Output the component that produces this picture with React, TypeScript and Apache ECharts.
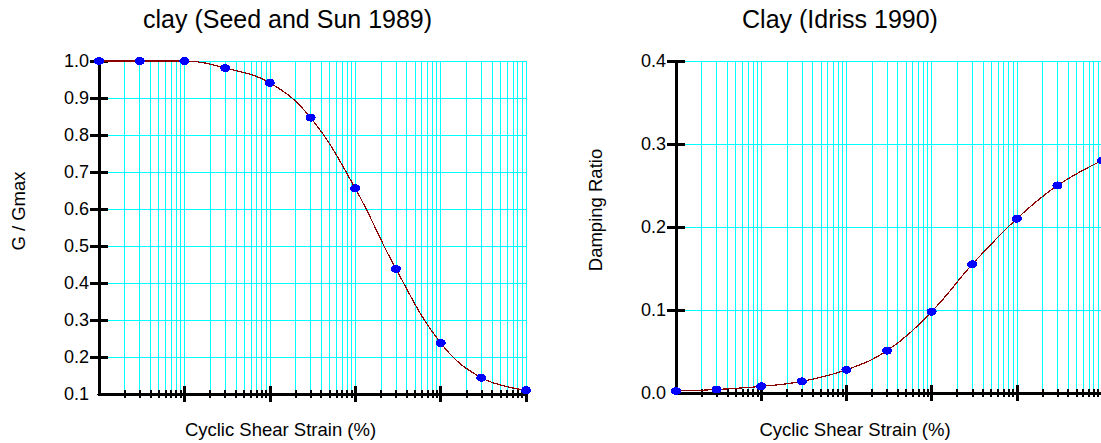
import React, { useEffect, useRef } from "react";
import * as echarts from "echarts";

// ---- data ----
const strain = [0.0001, 0.0003, 0.001, 0.003, 0.01, 0.03, 0.1, 0.3, 1, 3, 10];
const modulusRatio = [1.0, 1.0, 1.0, 0.981, 0.941, 0.847, 0.656, 0.438, 0.238, 0.144, 0.11];
const dampingRatio = [0.0024, 0.0042, 0.008, 0.014, 0.028, 0.051, 0.098, 0.155, 0.21, 0.25, 0.28];

const majorStrains = [0.001, 0.01, 0.1, 1, 10];
const decadeStarts = [0.0001, 0.001, 0.01, 0.1, 1];
const minorMultipliers = [2, 3, 4, 5, 6, 7, 8, 9];

const leftYTicks = [0.2, 0.3, 0.4, 0.5, 0.6, 0.7, 0.8, 0.9, 1.0];
const rightYTicks = [0.1, 0.2, 0.3, 0.4];

const leftTitle = "clay (Seed and Sun 1989)";
const rightTitle = "Clay (Idriss 1990)";
const xName = "Cyclic Shear Strain (%)";
const leftYName = "G / Gmax";
const rightYName = "Damping Ratio";

const FONT = '"Liberation Sans", Arial, sans-serif';
const CYAN = "#00FFFF";
const BLACK = "#000000";

const minorStrains: number[] = [];
decadeStarts.forEach((d) =>
  minorMultipliers.forEach((m) => minorStrains.push(Number((d * m).toPrecision(6))))
);
const gridStrains = [...minorStrains, ...majorStrains].sort((a, b) => a - b);

function xAxesFor(gi: number) {
  const base = {
    type: "log",
    logBase: 10,
    min: 0.0001,
    max: 10,
    gridIndex: gi,
    position: "bottom",
    offset: 0,
    axisLabel: { show: false },
    splitLine: { show: false },
    axisLine: { show: false, onZero: false },
  };
  return [
    {
      ...base,
      z: 0,
      axisTick: { show: false, customValues: gridStrains },
      splitLine: { show: true, lineStyle: { color: CYAN, width: 1 } },
    },
    {
      ...base,
      z: 3,
      axisLine: { show: true, onZero: false, lineStyle: { color: BLACK, width: 3 } },
      axisTick: { show: true, inside: true, length: 4, customValues: minorStrains, lineStyle: { color: BLACK, width: 1.5 } },
    },
    {
      ...base,
      z: 3,
      axisTick: { show: true, inside: false, length: 4, customValues: minorStrains, lineStyle: { color: BLACK, width: 1.5 } },
    },
    {
      ...base,
      z: 3,
      axisTick: { show: true, inside: true, length: 8, customValues: majorStrains, lineStyle: { color: BLACK, width: 3 } },
    },
    {
      ...base,
      z: 3,
      axisTick: { show: true, inside: false, length: 8, customValues: majorStrains, lineStyle: { color: BLACK, width: 3 } },
    },
  ];
}

function yAxesFor(gi: number, min: number, max: number, ticks: number[]) {
  const base = {
    type: "value",
    min,
    max,
    interval: 0.1,
    gridIndex: gi,
    position: "left",
    offset: 0,
    axisLabel: { show: false },
    splitLine: { show: false },
    axisLine: { show: false, onZero: false },
  };
  return [
    {
      ...base,
      z: 0,
      axisTick: { show: false, customValues: ticks },
      splitLine: { show: true, lineStyle: { color: CYAN, width: 1 } },
    },
    {
      ...base,
      z: 3,
      axisTick: { show: true, inside: true, length: 9, customValues: ticks, lineStyle: { color: BLACK, width: 3 } },
    },
    {
      ...base,
      z: 3,
      axisLine: { show: true, onZero: false, lineStyle: { color: BLACK, width: 3 } },
      axisTick: { show: true, inside: false, length: 9, customValues: ticks, lineStyle: { color: BLACK, width: 3 } },
      axisLabel: {
        show: true,
        margin: 10,
        color: BLACK,
        fontSize: 18,
        fontFamily: FONT,
        formatter: (v: number) => v.toFixed(1),
      },
    },
  ];
}

function textEl(text: string, x: number, y: number, size: number, align: string, rotation = 0) {
  return {
    type: "text",
    x,
    y,
    rotation,
    z: 10,
    style: {
      text,
      fill: BLACK,
      font: `normal ${size}px ${FONT}`,
      align,
      verticalAlign: "middle",
      textAlign: align,
      textVerticalAlign: "middle",
    },
  };
}

const crispCss = `.chart-root svg path, .chart-root svg line, .chart-root svg polyline { shape-rendering: crispEdges; }`;

export default function App() {
  const ref = useRef<HTMLDivElement>(null);

  useEffect(() => {
    if (!ref.current) return;
    const chart = echarts.init(ref.current, undefined, { renderer: "svg" });
    const seriesStyle = {
      type: "line",
      smooth: 0.4,
      symbol: "circle",
      symbolSize: [10, 8],
      showSymbol: true,
      clip: false,
      z: 5,
      lineStyle: { color: "#8B0000", width: 1.2 },
      itemStyle: { color: "#0000FF" },
    };
    chart.setOption({
      animation: false,
      backgroundColor: "#ffffff",
      grid: [
        { left: 99, top: 61, width: 427, height: 333, containLabel: false },
        { left: 676, top: 61, width: 426, height: 332, containLabel: false },
      ],
      xAxis: [...xAxesFor(0), ...xAxesFor(1)],
      yAxis: [
        ...yAxesFor(0, 0.1, 1.0, leftYTicks),
        ...yAxesFor(1, 0, 0.4, rightYTicks),
      ],
      series: [
        {
          ...seriesStyle,
          name: leftYName,
          xAxisIndex: 1,
          yAxisIndex: 2,
          data: strain.map((s, i) => [s, modulusRatio[i]]),
        },
        {
          ...seriesStyle,
          name: rightYName,
          xAxisIndex: 6,
          yAxisIndex: 5,
          data: strain.map((s, i) => [s, dampingRatio[i]]),
        },
      ],
      graphic: [
        textEl(leftTitle, 143, 18.5, 25, "left"),
        textEl(rightTitle, 840, 18.5, 25, "center"),
        textEl(xName, 280.5, 429.5, 18.5, "center"),
        textEl(xName, 855, 429.5, 18.5, "center"),
        textEl(leftYName, 18.5, 211, 18.5, "center", Math.PI / 2),
        textEl(rightYName, 595.5, 210, 18.5, "center", Math.PI / 2),
      ],
    });
    return () => chart.dispose();
  }, []);

  return (
    <>
      <style>{crispCss}</style>
      <div
        ref={ref}
        className="chart-root"
        style={{ position: "fixed", left: 0, top: 0, width: 1110, height: 443, background: "#fff" }}
      />
    </>
  );
}
